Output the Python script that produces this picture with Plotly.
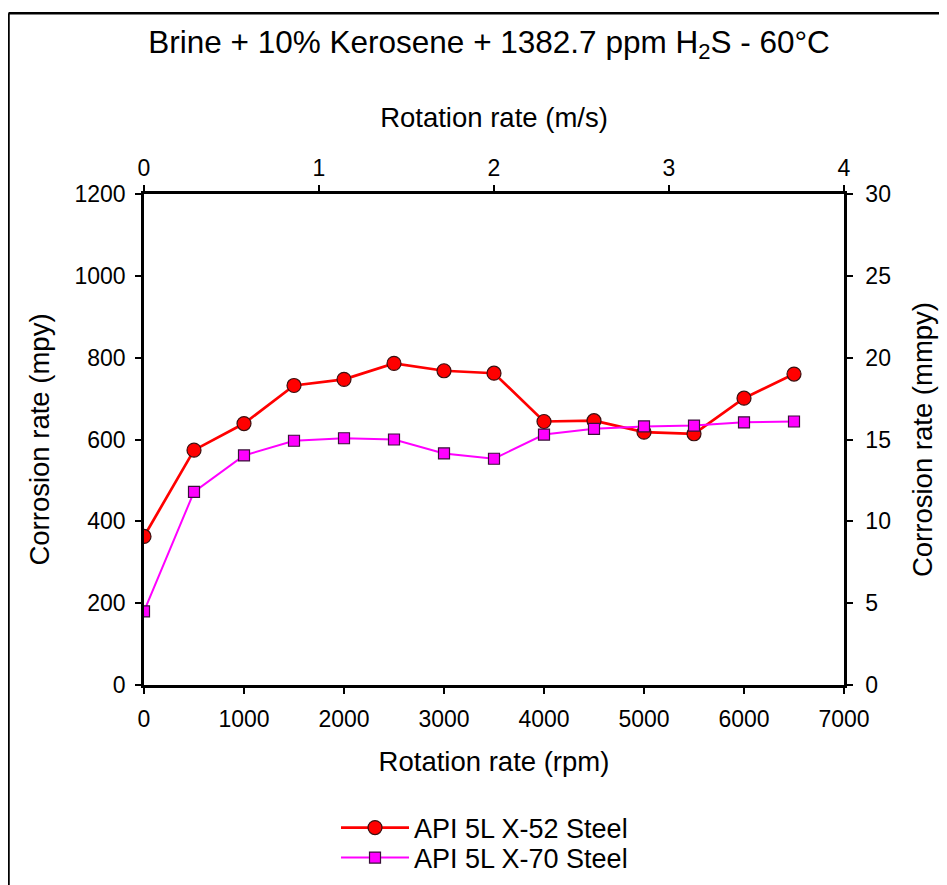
import plotly.graph_objects as go

rpm = [0, 500, 1000, 1500, 2000, 2500, 3000, 3500, 4000, 4500, 5000, 5500, 6000, 6500]
x52_mpy = [363, 574, 639, 732, 747, 786, 768, 762, 644, 646, 618, 614, 701, 760]
x70_mpy = [180, 472, 561, 597, 603, 600, 566, 553, 612, 626, 632, 634, 642, 644]

title_text = "Brine + 10% Kerosene + 1382.7 ppm H<sub>2</sub>S - 60°C"
x_title = "Rotation rate (rpm)"
x2_title = "Rotation rate (m/s)"
y_title = "Corrosion rate (mpy)"
y2_title = "Corrosion rate (mmpy)"
names = ["API 5L X-52 Steel", "API 5L X-70 Steel"]

FONT = "Liberation Sans, Arial, sans-serif"
TICK = 23
AX = 27.5

fig = go.Figure()
fig.add_trace(go.Scatter(
    x=rpm, y=x52_mpy, name=names[0], mode="lines+markers", legend="legend",
    line=dict(color="#ff0000", width=2.7),
    marker=dict(symbol="circle", size=14, color="#ff0000", line=dict(color="#3a1010", width=1.2)),
))
fig.add_trace(go.Scatter(
    x=rpm, y=x70_mpy, name=names[1], mode="lines+markers", legend="legend2",
    line=dict(color="#ff00ff", width=2),
    marker=dict(symbol="square", size=11, color="#ff00ff", line=dict(color="#3a103a", width=1.2)),
))
# invisible trace so the secondary axes are drawn
fig.add_trace(go.Scatter(x=[0], y=[0], xaxis="x2", yaxis="y2", mode="markers",
                         marker=dict(opacity=0), showlegend=False, hoverinfo="skip"))

axis_common = dict(
    showline=True, linecolor="black", linewidth=2.5, mirror=False,
    ticks="outside", ticklen=6, tickwidth=1.5, tickcolor="black",
    showgrid=False, zeroline=False,
    tickfont=dict(family=FONT, size=TICK, color="black"),
)

L, T, PW, PH = 136, 186, 700, 492
W, H = 947, 885

leg_common = dict(xanchor="left", yanchor="middle", x=0.2743, itemwidth=68,
                  font=dict(family=FONT, size=27, color="black"), bgcolor="rgba(0,0,0,0)")

fig.update_layout(
    width=W, height=H,
    paper_bgcolor="white", plot_bgcolor="white",
    margin=dict(l=L, r=W - L - PW, t=T, b=H - T - PH),
    title=dict(text=title_text, x=0.508, xanchor="center", y=0.962, yanchor="middle",
               font=dict(family=FONT, size=31.5, color="black")),
    xaxis=dict(range=[0, 7000], tickvals=[0, 1000, 2000, 3000, 4000, 5000, 6000, 7000],
               ticklabelstandoff=6,
               title=dict(text=x_title, font=dict(family=FONT, size=AX, color="black"), standoff=21),
               **axis_common),
    xaxis2=dict(range=[0, 4], tickvals=[0, 1, 2, 3, 4], overlaying="x", side="top", anchor="y",
                title=dict(text=x2_title, font=dict(family=FONT, size=AX, color="black"), standoff=20),
                **axis_common),
    yaxis=dict(range=[0, 1200], tickvals=[0, 200, 400, 600, 800, 1000, 1200],
               ticklabelstandoff=5,
               title=dict(text=y_title, font=dict(family=FONT, size=AX, color="black"), standoff=17),
               **axis_common),
    yaxis2=dict(range=[0, 30], tickvals=[0, 5, 10, 15, 20, 25, 30], overlaying="y", side="right", anchor="x",
                ticklabelstandoff=8,
                title=dict(text=y2_title, font=dict(family=FONT, size=AX, color="black"), standoff=23),
                **axis_common),
    legend=dict(y=(PH - (828 - 8 - T)) / PH, **leg_common),
    legend2=dict(y=(PH - (858 - 8 - T)) / PH, **leg_common),
    showlegend=True,
)

# partial frame around the figure (left and top edges)
fx = (0.5 - L) / PW
fy = 1 + (T - 5) / PH
fig.add_shape(type="line", xref="paper", yref="paper", x0=fx, x1=fx, y0=fy, y1=-0.5,
              line=dict(color="black", width=2.5))
fig.add_shape(type="line", xref="paper", yref="paper", x0=fx, x1=1.2, y0=fy, y1=fy,
              line=dict(color="black", width=2.5))

fig.write_html("out.html")
